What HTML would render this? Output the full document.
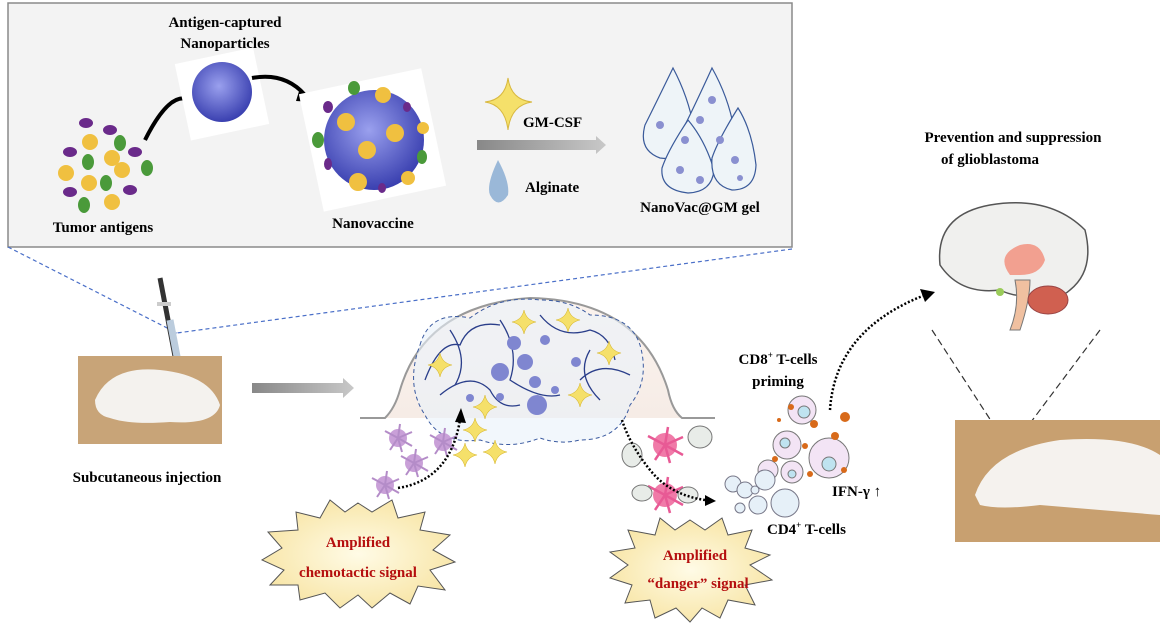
<!DOCTYPE html>
<html><head><meta charset="utf-8"><style>
body{margin:0;background:#fff}
svg{display:block}
text{font-family:"Liberation Serif",serif;font-weight:bold}
</style></head><body>
<svg width="1164" height="634" viewBox="0 0 1164 634" xmlns="http://www.w3.org/2000/svg">
<defs>
<linearGradient id="ga" x1="0" x2="1"><stop offset="0" stop-color="#888"/><stop offset="1" stop-color="#c8c8c8"/></linearGradient>
<radialGradient id="np" cx="0.45" cy="0.4" r="0.6"><stop offset="0" stop-color="#9aa0ee"/><stop offset="1" stop-color="#3a40b0"/></radialGradient>
<radialGradient id="burst" cx="0.5" cy="0.5" r="0.6"><stop offset="0" stop-color="#fffbe6"/><stop offset="1" stop-color="#f7e3a0"/></radialGradient>
<linearGradient id="mound" x1="0" y1="0" x2="0" y2="1"><stop offset="0" stop-color="#fbf3ee"/><stop offset="1" stop-color="#f6ece6"/></linearGradient>
<g id="star"><path d="M0,-12 Q2,-2 12,0 Q2,2 0,12 Q-2,2 -12,0 Q-2,-2 0,-12Z" fill="#f5e06a" stroke="#d8b830" stroke-width="0.6"/></g>
<g id="dc"><circle r="9" fill="#c9a0d8"/><g stroke="#b48cc8" stroke-width="2"><line x1="0" y1="0" x2="14" y2="-6"/><line x1="0" y1="0" x2="-13" y2="-7"/><line x1="0" y1="0" x2="4" y2="14"/><line x1="0" y1="0" x2="-8" y2="12"/><line x1="0" y1="0" x2="2" y2="-14"/><line x1="0" y1="0" x2="14" y2="8"/></g></g>
<g id="pdc"><circle r="12" fill="#f07aa8"/><g stroke="#e85a95" stroke-width="2.5"><line x1="0" y1="0" x2="18" y2="-8"/><line x1="0" y1="0" x2="-17" y2="-9"/><line x1="0" y1="0" x2="5" y2="18"/><line x1="0" y1="0" x2="-10" y2="15"/><line x1="0" y1="0" x2="3" y2="-18"/><line x1="0" y1="0" x2="18" y2="10"/></g></g>
</defs>

<rect x="8" y="3" width="784" height="244" fill="#f3f3f3" stroke="#8a8a8a" stroke-width="1.5"/>
<line x1="8" y1="247" x2="177" y2="333" stroke="#4a6fc8" stroke-width="1.2" stroke-dasharray="4,3"/>
<line x1="792" y1="249" x2="177" y2="333" stroke="#4a6fc8" stroke-width="1.2" stroke-dasharray="4,3"/>

<text x="225" y="27" font-size="15" text-anchor="middle">Antigen-captured</text>
<text x="225" y="48" font-size="15" text-anchor="middle">Nanoparticles</text>
<text x="103" y="232" font-size="15" text-anchor="middle">Tumor antigens</text>
<text x="373" y="228" font-size="15" text-anchor="middle">Nanovaccine</text>
<text x="523" y="127" font-size="15">GM-CSF</text>
<text x="525" y="192" font-size="15">Alginate</text>
<text x="700" y="212" font-size="15" text-anchor="middle">NanoVac@GM gel</text>

<g>
<ellipse cx="86" cy="123" rx="7" ry="5" fill="#6a2a8a"/><ellipse cx="110" cy="130" rx="7" ry="5" fill="#6a2a8a"/>
<ellipse cx="70" cy="152" rx="7" ry="5" fill="#6a2a8a"/><ellipse cx="135" cy="152" rx="7" ry="5" fill="#6a2a8a"/>
<ellipse cx="70" cy="192" rx="7" ry="5" fill="#6a2a8a"/><ellipse cx="130" cy="190" rx="7" ry="5" fill="#6a2a8a"/>
<ellipse cx="120" cy="143" rx="6" ry="8" fill="#4a9a3a"/><ellipse cx="88" cy="162" rx="6" ry="8" fill="#4a9a3a"/>
<ellipse cx="147" cy="168" rx="6" ry="8" fill="#4a9a3a"/><ellipse cx="106" cy="183" rx="6" ry="8" fill="#4a9a3a"/>
<ellipse cx="84" cy="205" rx="6" ry="8" fill="#4a9a3a"/>
<circle cx="90" cy="142" r="8" fill="#f0c040"/><circle cx="112" cy="158" r="8" fill="#f0c040"/>
<circle cx="122" cy="170" r="8" fill="#f0c040"/><circle cx="66" cy="173" r="8" fill="#f0c040"/>
<circle cx="89" cy="183" r="8" fill="#f0c040"/><circle cx="112" cy="202" r="8" fill="#f0c040"/>
</g>
<path d="M145,140 Q170,90 190,100" fill="none" stroke="#000" stroke-width="4"/>
<rect x="182" y="55" width="80" height="78" fill="#fff" transform="rotate(-12 222 94)"/>
<circle cx="222" cy="92" r="30" fill="url(#np)"/>
<path d="M252,78 Q285,72 305,95" fill="none" stroke="#000" stroke-width="4"/>
<path d="M300,88 L312,102 L296,101Z" fill="#000"/>
<rect x="310" y="80" width="125" height="120" fill="#fff" transform="rotate(-12 372 140)"/>
<circle cx="374" cy="140" r="50" fill="url(#np)"/>
<g fill="#f0c040"><circle cx="346" cy="122" r="9"/><circle cx="395" cy="133" r="9"/><circle cx="367" cy="150" r="9"/><circle cx="383" cy="95" r="8"/><circle cx="358" cy="182" r="9"/><circle cx="408" cy="178" r="7"/><circle cx="423" cy="128" r="6"/></g>
<g fill="#4a9a3a"><ellipse cx="354" cy="88" rx="6" ry="7"/><ellipse cx="318" cy="140" rx="6" ry="8"/><ellipse cx="422" cy="157" rx="5" ry="7"/></g>
<g fill="#6a2a8a"><ellipse cx="328" cy="107" rx="5" ry="6"/><ellipse cx="407" cy="107" rx="4" ry="5"/><ellipse cx="328" cy="164" rx="4" ry="6"/><ellipse cx="382" cy="188" rx="4" ry="5"/></g>
<path d="M508,78 Q511,100 532,102 Q511,105 508,130 Q505,105 485,102 Q505,100 508,78Z" fill="#f5e06a" stroke="#d8b840"/>
<path d="M477,140 L596,140 L596,136 L606,145 L596,154 L596,150 L477,150Z" fill="url(#ga)"/>
<path d="M498,160 Q486,185 490,195 Q498,210 508,195 Q510,182 498,160Z" fill="#9ab8d8"/>
<!-- gel drops -->
<g fill="#eef4f8" stroke="#3a5a9a" stroke-width="1.2">
<path d="M673,68 Q655,105 645,125 Q638,150 660,158 Q688,162 695,135 Q690,100 673,68Z"/>
<path d="M712,68 Q695,105 685,125 Q678,152 702,160 Q730,162 735,135 Q730,100 712,68Z"/>
<path d="M688,120 Q668,150 662,168 Q660,190 688,193 Q712,192 714,170 Q705,140 688,120Z"/>
<path d="M738,108 Q718,140 712,158 Q710,185 732,190 Q755,190 756,165 Q752,130 738,108Z"/>
</g>
<g fill="#8a90d0"><circle cx="660" cy="125" r="4"/><circle cx="685" cy="140" r="4"/><circle cx="700" cy="120" r="4"/><circle cx="720" cy="140" r="4"/><circle cx="680" cy="170" r="4"/><circle cx="700" cy="180" r="4"/><circle cx="735" cy="160" r="4"/><circle cx="712" cy="100" r="4"/><circle cx="740" cy="178" r="3"/></g>

<line x1="160" y1="278" x2="178" y2="372" stroke="#333" stroke-width="5"/>
<rect x="157" y="302" width="14" height="4" fill="#ccc"/>
<line x1="170" y1="320" x2="180" y2="372" stroke="#bcd" stroke-width="7"/>
<rect x="78" y="356" width="144" height="88" fill="#c8a478"/>
<path d="M95,400 Q110,365 160,370 Q210,375 220,405 Q215,425 170,422 Q130,425 110,418 Q95,415 95,400Z" fill="#f4f2ee"/>
<text x="147" y="482" font-size="15" text-anchor="middle">Subcutaneous  injection</text>
<path d="M252,383 L343,383 L343,378 L354,388 L343,398 L343,393 L252,393Z" fill="url(#ga)"/>

<path d="M360,418 L385,418 Q395,408 400,390 Q425,305 530,298 Q640,300 668,390 Q672,410 682,418 L715,418" fill="url(#mound)" stroke="#999" stroke-width="2"/>
<g fill="#eaf2fa" fill-opacity="0.6" stroke="#3a5aa0" stroke-width="1" stroke-dasharray="4,3">
<path d="M420,345 Q430,310 470,318 Q500,295 540,300 Q570,300 590,315 Q630,315 640,345 Q650,380 630,405 Q620,440 580,440 Q560,445 540,438 Q510,450 480,440 Q440,445 425,415 Q405,385 420,345Z"/>
</g>
<g fill="none" stroke="#2a3e8a" stroke-width="1.3">
<path d="M425,380 Q440,340 460,345 Q470,320 500,325"/><path d="M500,320 Q520,350 510,380 Q540,400 560,395"/>
<path d="M540,315 Q560,340 590,330 Q610,335 615,360"/><path d="M440,395 Q470,370 490,390 Q500,410 520,405"/>
<path d="M580,380 Q600,360 630,375"/><path d="M450,330 Q470,360 455,385"/><path d="M590,350 Q575,375 600,400"/>
</g>
<g fill="#7f86d0"><circle cx="514" cy="343" r="7"/><circle cx="545" cy="340" r="5"/><circle cx="500" cy="372" r="9"/><circle cx="525" cy="362" r="8"/><circle cx="535" cy="382" r="6"/><circle cx="576" cy="362" r="5"/><circle cx="537" cy="405" r="10"/><circle cx="470" cy="398" r="4"/><circle cx="500" cy="397" r="4"/><circle cx="555" cy="390" r="4"/></g>
<use href="#star" x="568" y="320"/><use href="#star" x="609" y="353"/><use href="#star" x="580" y="395"/>
<use href="#star" x="440" y="365"/><use href="#star" x="475" y="430"/><use href="#star" x="495" y="452"/><use href="#star" x="465" y="455"/><use href="#star" x="485" y="407"/><use href="#star" x="524" y="322"/>

<use href="#dc" x="398" y="438"/><use href="#dc" x="443" y="442"/><use href="#dc" x="414" y="463"/><use href="#dc" x="385" y="485"/>
<path d="M398,488 Q450,480 460,420" fill="none" stroke="#000" stroke-width="2.5" stroke-dasharray="2,2"/>
<path d="M455,422 L461,408 L466,423Z" fill="#000"/>
<polygon points="358,503 372,512 392,500 398,518 425,512 420,530 450,535 433,550 455,562 430,570 445,590 418,586 410,604 390,593 372,608 358,595 340,608 325,593 300,600 298,585 270,585 284,570 262,560 282,548 268,532 298,530 296,512 320,518 330,500 345,512" fill="url(#burst)" stroke="#555" stroke-width="1"/>
<text x="358" y="547" font-size="15" fill="#b50f0f" text-anchor="middle">Amplified</text>
<text x="358" y="577" font-size="15" fill="#b50f0f" text-anchor="middle">chemotactic signal</text>

<use href="#pdc" x="665" y="445"/><use href="#pdc" x="665" y="495"/>
<g fill="#e8ece8" stroke="#777"><ellipse cx="632" cy="455" rx="10" ry="12"/><ellipse cx="700" cy="437" rx="12" ry="11"/><ellipse cx="642" cy="493" rx="10" ry="8"/><ellipse cx="688" cy="495" rx="10" ry="8"/></g>
<path d="M622,420 Q630,445 650,470 Q670,495 705,500" fill="none" stroke="#000" stroke-width="2.5" stroke-dasharray="2,2"/>
<path d="M705,495 L716,501 L705,506Z" fill="#000"/>
<polygon points="690,520 705,530 722,518 728,535 752,530 745,548 770,555 750,565 772,580 745,585 755,605 728,600 720,618 702,608 690,622 676,608 655,618 650,600 625,603 632,585 610,578 628,565 610,552 635,548 628,530 655,535 660,518 675,530" fill="url(#burst)" stroke="#555" stroke-width="1"/>
<text x="695" y="560" font-size="15" fill="#b50f0f" text-anchor="middle">Amplified</text>
<text x="698" y="588" font-size="15" fill="#b50f0f" text-anchor="middle">“danger” signal</text>

<text x="778" y="364" font-size="15" text-anchor="middle">CD8<tspan font-size="9" dy="-6">+</tspan><tspan dy="6"> T-cells</tspan></text>
<text x="778" y="386" font-size="15" text-anchor="middle">priming</text>
<g fill="#f3e4f5" stroke="#777"><circle cx="802" cy="410" r="14"/><circle cx="787" cy="445" r="14"/><circle cx="829" cy="458" r="20"/><circle cx="792" cy="472" r="11"/><circle cx="768" cy="470" r="10"/></g>
<g fill="#bfe3f0" stroke="#777"><circle cx="804" cy="412" r="6"/><circle cx="785" cy="443" r="5"/><circle cx="829" cy="464" r="7"/><circle cx="792" cy="474" r="4"/></g>
<g fill="#e6f0f8" stroke="#778"><circle cx="733" cy="484" r="8"/><circle cx="745" cy="490" r="8"/><circle cx="765" cy="480" r="10"/><circle cx="758" cy="505" r="9"/><circle cx="785" cy="503" r="14"/><circle cx="740" cy="508" r="5"/><circle cx="755" cy="490" r="4"/></g>
<g fill="#d86a1a"><circle cx="791" cy="407" r="3"/><circle cx="814" cy="424" r="4"/><circle cx="845" cy="417" r="5"/><circle cx="835" cy="436" r="4"/><circle cx="779" cy="420" r="2"/><circle cx="805" cy="446" r="3"/><circle cx="775" cy="459" r="3"/><circle cx="810" cy="474" r="3"/><circle cx="844" cy="470" r="3"/></g>
<text x="832" y="496" font-size="15">IFN-γ ↑</text>
<text x="767" y="534" font-size="15">CD4<tspan font-size="9" dy="-6">+</tspan><tspan dy="6"> T-cells</tspan></text>
<path d="M830,410 Q835,330 925,295" fill="none" stroke="#000" stroke-width="2.5" stroke-dasharray="2,2"/>
<path d="M920,289 L935,292 L925,302Z" fill="#000"/>

<text x="1013" y="142" font-size="15" text-anchor="middle">Prevention and suppression</text>
<text x="990" y="164" font-size="15" text-anchor="middle">of glioblastoma</text>
<path d="M940,265 Q935,215 990,205 Q1050,195 1085,230 Q1095,270 1070,290 Q1060,300 1040,292 Q1020,300 1000,290 Q960,295 940,265Z" fill="#f0f0ee" stroke="#555" stroke-width="1.5"/>
<path d="M1010,275 Q995,255 1020,245 Q1040,240 1045,260 Q1040,275 1020,275Z" fill="#f2a090"/>
<path d="M1015,280 Q1020,305 1010,330 L1020,330 Q1030,300 1030,280Z" fill="#f0c0a0" stroke="#777"/>
<ellipse cx="1048" cy="300" rx="20" ry="14" fill="#d06050" stroke="#944"/>
<circle cx="1000" cy="292" r="4" fill="#9acb5a"/>
<line x1="932" y1="330" x2="1010" y2="450" stroke="#333" stroke-width="1.2" stroke-dasharray="7,4"/>
<line x1="1100" y1="330" x2="1010" y2="450" stroke="#333" stroke-width="1.2" stroke-dasharray="7,4"/>
<rect x="955" y="420" width="205" height="122" fill="#c8a070"/>
<path d="M975,495 Q990,450 1060,440 Q1130,435 1160,455 L1160,515 Q1100,510 1040,505 Q1000,510 980,505Z" fill="#f5f2ee"/>
</svg>
</body></html>
